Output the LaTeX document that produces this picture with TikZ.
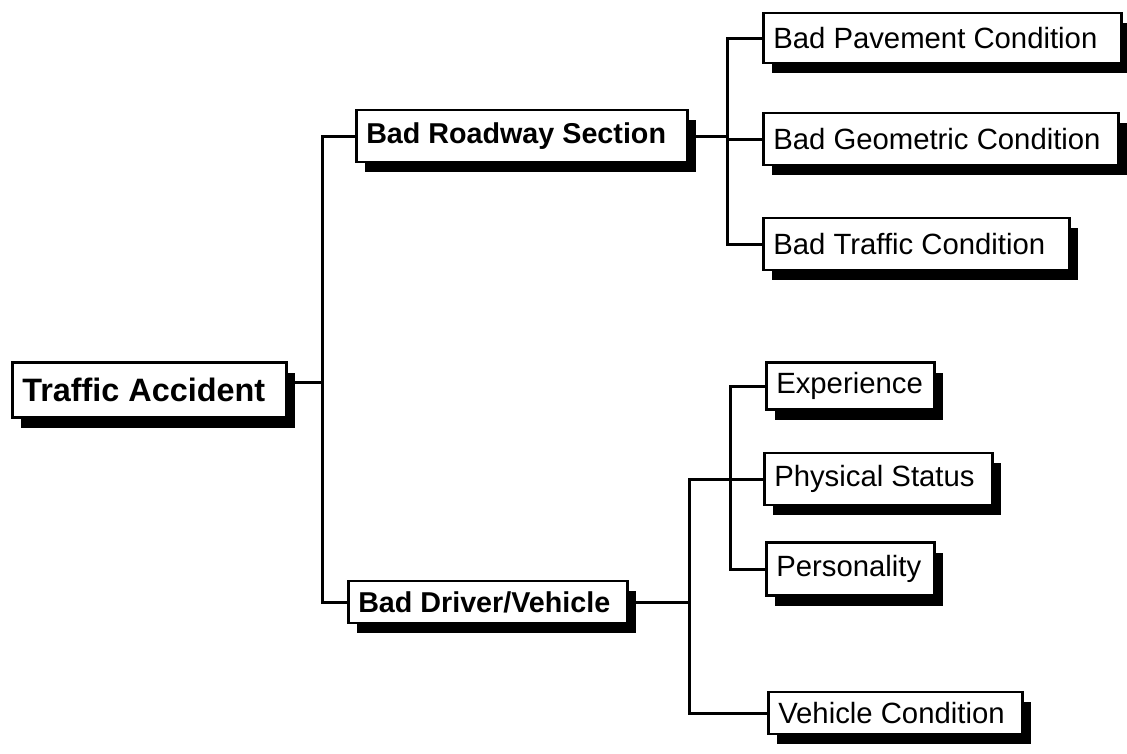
\documentclass[tikz,border=0pt]{standalone}
\usepackage{fontspec}
\setmainfont{Liberation Sans}
\usetikzlibrary{shadows}

\begin{document}
\begin{tikzpicture}[x=1pt,y=-1pt,
  box/.style={draw, line width=2.5pt, fill=white, anchor=west, align=flush left,
    inner xsep=10pt, inner ysep=0pt,
    execute at begin node={\hyphenpenalty=10000},
    drop shadow={shadow xshift=9pt, shadow yshift=-10pt, fill=black, opacity=1}},
  rootbox/.style={box, font=\fontsize{32.4}{36}\selectfont\bfseries},
  majorbox/.style={box, font=\fontsize{28.7}{32}\selectfont\bfseries},
  minorbox/.style={box, font=\fontsize{29.3}{32}\selectfont},
  conn/.style={line width=3pt},
]
\useasboundingbox (0,0) rectangle (1127,753);

% root
\node[rootbox, text width=254pt, minimum height=55pt] (ta) at (11,390) {Traffic Accident};

% first level
\node[majorbox, text width=311pt, minimum height=52pt] (rw) at (355,136) {Bad Roadway Section};
\node[majorbox, text width=259pt, minimum height=42pt] (dv) at (347,602) {Bad Driver/Vehicle};

% roadway factors
\node[minorbox, text width=338pt, minimum height=50pt] (pv) at (762,38)  {Bad Pavement Condition};
\node[minorbox, text width=335pt, minimum height=52pt] (ge) at (762,139) {Bad Geometric Condition};
\node[minorbox, text width=286pt, minimum height=52pt] (tr) at (762,244) {Bad Traffic Condition};

% driver / vehicle factors
\node[minorbox, text width=148pt, minimum height=47pt] (ex) at (765,386) {Experience};
\node[minorbox, text width=208pt, minimum height=52pt] (ph) at (763,479) {Physical Status};
\node[minorbox, text width=148pt, minimum height=53pt] (pe) at (765,569) {Personality};
\node[minorbox, text width=234pt, minimum height=42pt] (vc) at (767,713) {Vehicle Condition};

% junction columns
\coordinate (j1) at (322,0);
\coordinate (j2) at (727,0);
\coordinate (j3) at (689,0);
\coordinate (j4) at (730,0);
\coordinate (taout) at ([yshift=8pt]ta.east);

% connectors
\draw[conn] (taout) -- (taout -| j1);
\draw[conn] (rw.west) -- (rw.west -| j1) -- (dv.west -| j1) -- (dv.west);
\draw[conn] (rw.east) -- (rw.east -| j2);
\draw[conn] (pv.west) -- (pv.west -| j2) -- (tr.west -| j2) -- (tr.west);
\draw[conn] (ge.west -| j2) -- (ge.west);
\draw[conn] (dv.east) -- (dv.east -| j3);
\draw[conn] (ph.west) -- (ph.west -| j3) -- (vc.west -| j3) -- (vc.west);
\draw[conn] (ex.west) -- (ex.west -| j4) -- (pe.west -| j4) -- (pe.west);
\end{tikzpicture}
\end{document}
